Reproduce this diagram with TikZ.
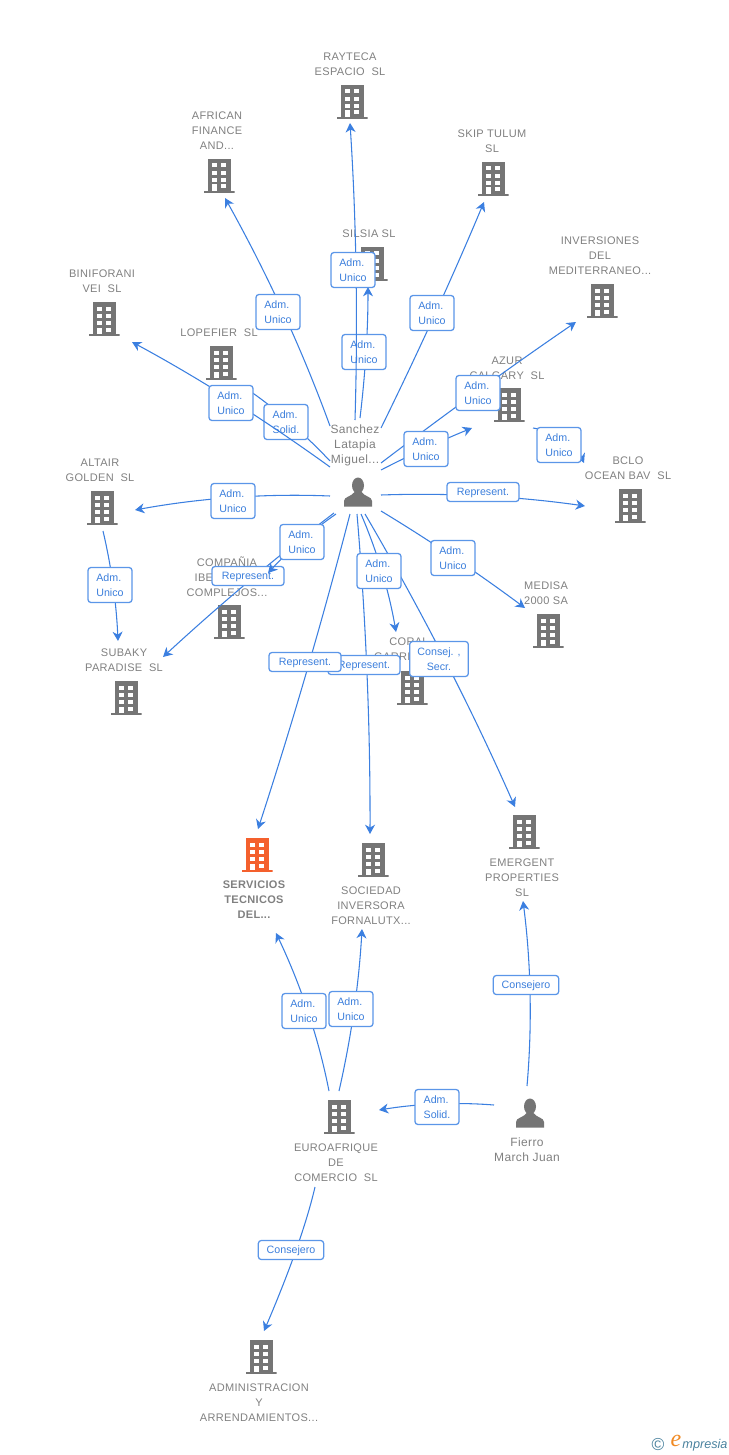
\documentclass[tikz,border=0pt]{standalone}
\usepackage{fontspec}
\setmainfont{Liberation Sans}
\newfontfamily\entf[LetterSpace=3]{Liberation Sans}
\newfontfamily\markf{Liberation Serif}
\usetikzlibrary{calc,arrows.meta}
\definecolor{linkc}{HTML}{3B7FE0}
\definecolor{boxc}{HTML}{5B96E8}
\definecolor{txtc}{HTML}{3C7FDC}
\definecolor{entc}{HTML}{808080}
\definecolor{iconc}{HTML}{757575}
\definecolor{hotc}{HTML}{F4602D}
\definecolor{markc}{HTML}{4A829E}
\definecolor{marko}{HTML}{F08A24}
\tikzset{
  x=0.75pt,y=-0.75pt,
  bldg/.style={inner sep=0pt,minimum width=23.25pt,minimum height=25.5pt,
    path picture={
      \fill[#1] (-11.5,-17) rectangle (11.5,15);
      \fill[#1] (-15.5,14.6) rectangle (15.5,17);
      \foreach \yy in {-12.5,-5.2,2.1}{
        \fill[white] (-7,\yy) rectangle (-2,\yy+4);
        \fill[white] (2.3,\yy) rectangle (7.3,\yy+4);}
      \fill[white] (2.3,8.5) rectangle (7.3,12.5);
      \fill[white] (-7,8.5) rectangle (-2,14.8);
    }},
  bldg/.default=iconc,
  persona/.style={inner sep=0pt,minimum width=22.5pt,minimum height=24pt,
    path picture={
      \fill[iconc] (0,-6.5) ellipse (6 and 8);
      \fill[iconc] (-14,14.5) -- (-14,9) .. controls (-14,4.5) and (-6,4.5) .. (-3.5,0)
         -- (3.5,0) .. controls (6,4.5) and (14,4.5) .. (14,9) -- (14,14.5) -- cycle;
    }},
  enttext/.style={align=center,inner sep=0pt,yshift=-0.75pt,text=entc,font=\entf\fontsize{8.25}{11.25}\selectfont},
  perstext/.style={align=center,inner sep=0pt,yshift=-0.75pt,text=entc,font=\entf\fontsize{9}{11.25}\selectfont},
  link/.style={draw=linkc,line width=0.8pt},
  linkar/.style={link,-{Stealth[length=7pt,width=7.5pt,inset=2.2pt]}},
  lblbase/.style={draw=boxc,line width=0.95pt,fill=white,rounded corners=2.2pt,inner sep=0pt,
    text=txtc,font=\fontsize{8}{11.25}\selectfont,execute at begin node={\rule{0pt}{7.2pt}}},
  lbltwo/.style={lblbase,align=left,minimum width=33pt,minimum height=26.25pt},
  lblrep/.style={lblbase,align=center,minimum width=54pt,minimum height=14.25pt},
  lblcon/.style={lblbase,align=center,minimum width=49pt,minimum height=14.25pt},
  lblsec/.style={lblbase,align=center,minimum width=44pt,minimum height=26.25pt},
}
% #1 label style, #2 name, #3 start, #4 point the curve passes at its middle, #5 end, #6 label centre, #7 text
\newcommand{\conn}[7][lbltwo]{%
  \coordinate (#2s) at #3;
  \coordinate (#2e) at #5;
  \draw[linkar] (#2s)
     .. controls ($1.3333*#4-0.3333*#5$) and ($1.3333*#4-0.3333*#3$) .. (#2e);
  \node[#1] (#2) at #6 {#7};
}
\begin{document}
\begin{tikzpicture}
\useasboundingbox (0,0) rectangle (728,1455);
% entities
\node[enttext] (trayteca) at (350,63.5) {RAYTECA\\ESPACIO\ \ SL};
\node[bldg] (rayteca) at (352,102) {};
\node[enttext] (tafrican) at (217,130) {AFRICAN\\FINANCE\\AND...};
\node[bldg] (african) at (219,176) {};
\node[enttext] (tskip) at (492,140.5) {SKIP TULUM\\SL};
\node[bldg] (skip) at (493,179) {};
\node[enttext] (tsilsia) at (369,233) {SILSIA SL};
\node[bldg] (silsia) at (372,264) {};
\node[enttext] (tinver) at (600,255) {INVERSIONES\\DEL\\MEDITERRANEO...};
\node[bldg] (inver) at (602,301) {};
\node[enttext] (tbini) at (102,280.5) {BINIFORANI\\VEI\ \ SL};
\node[bldg] (bini) at (104,319) {};
\node[enttext] (tlope) at (219,332) {LOPEFIER\ \ SL};
\node[bldg] (lope) at (221,363) {};
\node[enttext] (tazur) at (507,367.5) {AZUR\\CALGARY\ \ SL};
\node[bldg] (azur) at (509,405) {};
\node[enttext] (taltair) at (100,469.5) {ALTAIR\\GOLDEN\ \ SL};
\node[bldg] (altair) at (102,508) {};
\node[enttext] (tbclo) at (628,467.5) {BCLO\\OCEAN BAV\ \ SL};
\node[bldg] (bclo) at (630,506) {};
\node[enttext] (tcomp) at (227,576) {COMPAÑIA\\IBE\phantom{RICA DE}\\COMPLEJOS...};
\node[bldg] (comp) at (229,622) {};
\node[enttext] (tmedisa) at (546,592.5) {MEDISA\\2000 SA};
\node[bldg] (medisa) at (548,631) {};
\node[enttext] (tsubaky) at (124,659.5) {SUBAKY\\PARADISE\ \ SL};
\node[bldg] (subaky) at (126,698) {};
\node[enttext] (tcoral) at (409,648.5) {CORAL\\GARRI\phantom{GA SL}};
\node[bldg] (coral) at (412,688) {};
\node[bldg=hotc] (serv) at (257,855) {};
\node[enttext,font=\entf\bfseries\fontsize{8.25}{11.25}\selectfont] (tserv) at (254,899) {SERVICIOS\\TECNICOS\\DEL...};
\node[bldg] (socie) at (373,860) {};
\node[enttext] (tsocie) at (371,905) {SOCIEDAD\\INVERSORA\\FORNALUTX...};
\node[bldg] (emerg) at (524,832) {};
\node[enttext] (temerg) at (522,877) {EMERGENT\\PROPERTIES\\SL};
\node[bldg] (euro) at (339,1117) {};
\node[enttext] (teuro) at (336,1162) {EUROAFRIQUE\\DE\\COMERCIO\ \ SL};
\node[bldg] (admin) at (261,1357) {};
\node[enttext] (tadmin) at (259,1402) {ADMINISTRACION\\Y\\ARRENDAMIENTOS...};
\node[perstext] (tsanchez) at (355,444) {Sanchez\\Latapia\\Miguel...};
\node[persona] (sanchez) at (358,492) {};
\node[persona] (fierro) at (530,1113) {};
\node[perstext] (tfierro) at (527,1148.5) {Fierro\\March Juan};
% connectors with their labels, in stacking order
\conn{silsiaL}{(360,418)}{(366,352)}{(368,287)}{(364,352)}{Adm.\\Unico}
\conn{raytecaL}{(355,420)}{(356,271)}{(350,123)}{(353,270)}{Adm.\\Unico}
\conn{africanL}{(330,426)}{(283,312)}{(225,198)}{(278,312)}{Adm.\\Unico}
\conn{skipL}{(381,428)}{(435,314)}{(484,202)}{(432,313)}{Adm.\\Unico}
\conn{inverL}{(381,463)}{(478,391)}{(576,322)}{(478,393)}{Adm.\\Unico}
\conn{azurL}{(381,470)}{(426,448)}{(472,428)}{(426,449)}{Adm.\\Unico}
\conn{bcloL}{(533,428)}{(565,440)}{(584,463)}{(559,445)}{Adm.\\Unico}
\conn[lblrep]{bcloR}{(381,495)}{(483,496)}{(585,506)}{(483,492)}{Represent.}
\conn{medisaL}{(381,511)}{(453,557)}{(525,608)}{(453,558)}{Adm.\\Unico}
\conn{altairL}{(330,496)}{(233,497.5)}{(135,510)}{(233,501)}{Adm.\\Unico}
\conn{subakyL}{(103,531)}{(113,585)}{(118,641)}{(110,585)}{Adm.\\Unico}
\conn{lopeL}{(330,461)}{(287,420)}{(241,385)}{(286,422)}{Adm.\\Solid.}
\conn{biniL}{(330,467)}{(231,400)}{(132,342)}{(231,403)}{Adm.\\Unico}
\conn[lblrep]{subakyR}{(334,513)}{(248,582)}{(163,657)}{(248,576)}{Represent.}
\conn{compL}{(336,514)}{(300,542)}{(268,573)}{(302,542)}{Adm.\\Unico}
\conn[lblrep]{socieR}{(357,514)}{(367,674)}{(370,834)}{(364,665)}{Represent.}
\conn[lblrep]{servR}{(350,514)}{(306.5,672)}{(258,829)}{(305,662)}{Represent.}
\conn[lblsec]{emergC}{(365,514)}{(445,660)}{(515,807)}{(439,659)}{Consej. ,\\Secr.}
\conn{coralL}{(361,514)}{(382,572)}{(396,632)}{(379,571)}{Adm.\\Unico}
\conn{servL}{(329,1091)}{(308,1012)}{(276,933)}{(304,1011)}{Adm.\\Unico}
\conn{socieL}{(339,1091)}{(354,1010)}{(362,929)}{(351,1009)}{Adm.\\Unico}
\conn[lblcon]{emergF}{(527,1086)}{(530,994)}{(523,901)}{(526,985)}{Consejero}
\conn{euroF}{(494,1105)}{(437,1104)}{(379,1110)}{(437,1107)}{Adm.\\Solid.}
\conn[lblcon]{adminC}{(315,1187)}{(296,1250)}{(264,1331)}{(291,1250)}{Consejero}
% mark
\node[inner sep=0pt,text=markc,font=\fontsize{13}{13}\selectfont] (markcopy) at (658,1444) {©};
\node[inner sep=0pt,text=marko,font=\markf\itshape\fontsize{18}{18}\selectfont] (marke) at (676,1441) {e};
\node[inner sep=0pt,text=markc,font=\itshape\fontsize{9.5}{9.5}\selectfont] (markword) at (705,1445) {mpresia};
\end{tikzpicture}
\end{document}
